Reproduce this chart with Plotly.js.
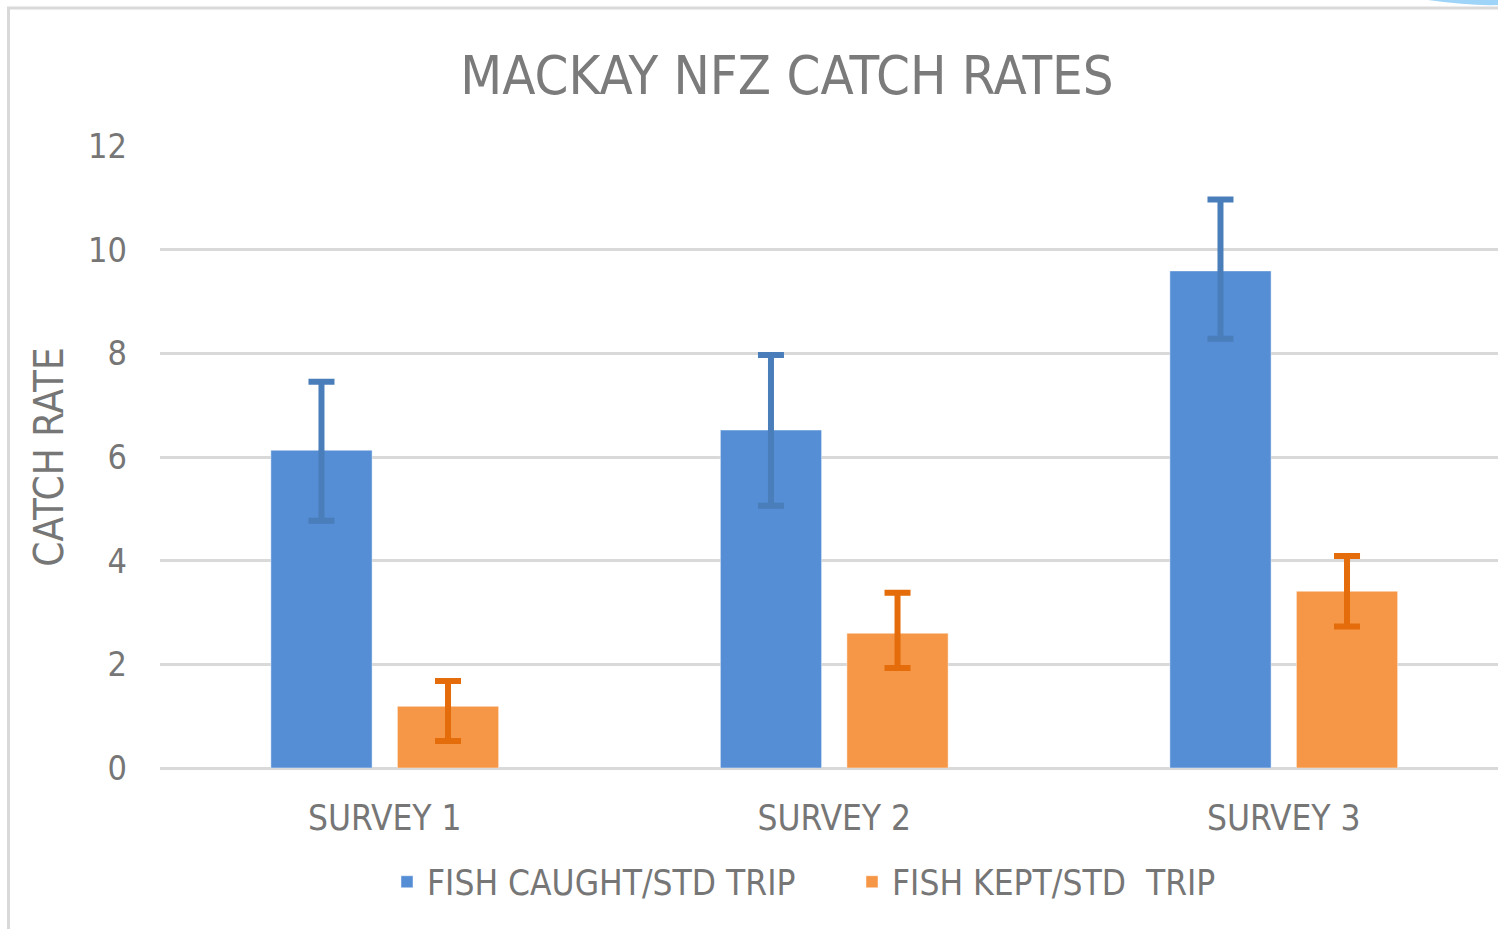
<!DOCTYPE html>
<html>
<head>
<meta charset="utf-8">
<script src="https://cdn.plot.ly/plotly-3.0.1.min.js"></script>
<style>
html,body{margin:0;padding:0;background:#fff;}
#chart{width:1498px;height:929px;}
</style>
</head>
<body>
<div id="chart"></div>
<script>
// ---- data ----
const categories = ["SURVEY 1", "SURVEY 2", "SURVEY 3"];
const caughtNames = "FISH CAUGHT/STD TRIP";
const keptNames = "FISH KEPT/STD  TRIP";
const caught = [6.13, 6.52, 9.59];
const caughtErrPlus = [1.32, 1.45, 1.38];
const caughtErrMinus = [1.36, 1.46, 1.31];
const kept = [1.19, 2.60, 3.41];
const keptErrPlus = [0.49, 0.78, 0.68];
const keptErrMinus = [0.67, 0.67, 0.68];
const yTicks = [0, 2, 4, 6, 8, 10, 12];

// ---- layout helpers (pixel -> paper) ----
const W = 1498, H = 929, L = 160, R = 0, T = 146, B = 161;
const pw = W - L - R, ph = H - T - B;
const px = x => (x - L) / pw;
const py = y => (H - B - y) / ph;

const FONT = '"Liberation Sans Narrow", "Arial Narrow", "DejaVu Sans Condensed", "Liberation Sans", sans-serif';
const TXT = '#767676';

const traces = [
  {
    type: 'bar', name: caughtNames, x: categories, y: caught,
    marker: {color: '#558ed5', line: {color: 'rgba(255,255,255,0.45)', width: 1}},
    error_y: {type: 'data', symmetric: false, array: caughtErrPlus, arrayminus: caughtErrMinus,
              color: '#4a7ebb', thickness: 6, width: 13}
  },
  {
    type: 'bar', name: keptNames, x: categories, y: kept,
    marker: {color: '#f59747', line: {color: 'rgba(255,255,255,0.45)', width: 1}},
    error_y: {type: 'data', symmetric: false, array: keptErrPlus, arrayminus: keptErrMinus,
              color: '#e46c0a', thickness: 6, width: 13}
  }
];

const layout = {
  width: W, height: H,
  margin: {l: L, r: R, t: T, b: B, pad: 0},
  paper_bgcolor: '#ffffff', plot_bgcolor: '#ffffff',
  font: {family: FONT, color: TXT, size: 35},
  title: {text: 'MACKAY NFZ CATCH RATES', font: {family: FONT, size: 54, color: '#7b7b7b'},
          x: px(787), xref: 'paper', xanchor: 'center', y: 1 - 75 / H, yanchor: 'middle'},
  barmode: 'group', bargap: 0.437, bargroupgap: 0.2,
  xaxis: {
    type: 'category', range: [-0.5, -0.5 + pw / 449.5],
    showgrid: false, showline: false, zeroline: false, ticks: '',
    tickfont: {family: FONT, size: 35, color: TXT}, ticklabelstandoff: 26,
    fixedrange: true
  },
  yaxis: {
    range: [0, 12], tickvals: yTicks, ticktext: yTicks.map(String),
    showgrid: true, gridcolor: '#d9d9d9', gridwidth: 3,
    zeroline: true, zerolinecolor: '#d9d9d9', zerolinewidth: 3,
    showline: false, ticks: '',
    tickfont: {family: FONT, size: 34, color: TXT}, ticklabelstandoff: 32,
    title: {text: 'CATCH RATE', font: {family: FONT, size: 40, color: TXT}, standoff: 12},
    fixedrange: true
  },
  showlegend: true,
  legend: {orientation: 'h', x: px(852), xanchor: 'center', y: py(882), yanchor: 'middle',
           entrywidth: 420, entrywidthmode: 'pixels',
           font: {family: FONT, size: 35, color: TXT}, bgcolor: 'rgba(0,0,0,0)', traceorder: 'normal'},
  shapes: [
    {type: 'rect', xref: 'paper', yref: 'paper', x0: px(8.5), x1: px(1540), y0: py(8), y1: py(1000),
     line: {color: '#d9d9d9', width: 3}, fillcolor: 'rgba(0,0,0,0)', layer: 'above'},
    {type: 'path', xref: 'paper', yref: 'paper',
     path: 'M ' + px(1428) + ' ' + py(0) + ' Q ' + px(1470) + ' ' + py(6) + ' ' + px(1498) + ' ' + py(5) +
           ' L ' + px(1498) + ' ' + py(0) + ' Z',
     line: {width: 0}, fillcolor: '#9dd4f8', layer: 'above'}
  ]
};

Plotly.newPlot('chart', traces, layout, {displayModeBar: false, staticPlot: true});
</script>
</body>
</html>
